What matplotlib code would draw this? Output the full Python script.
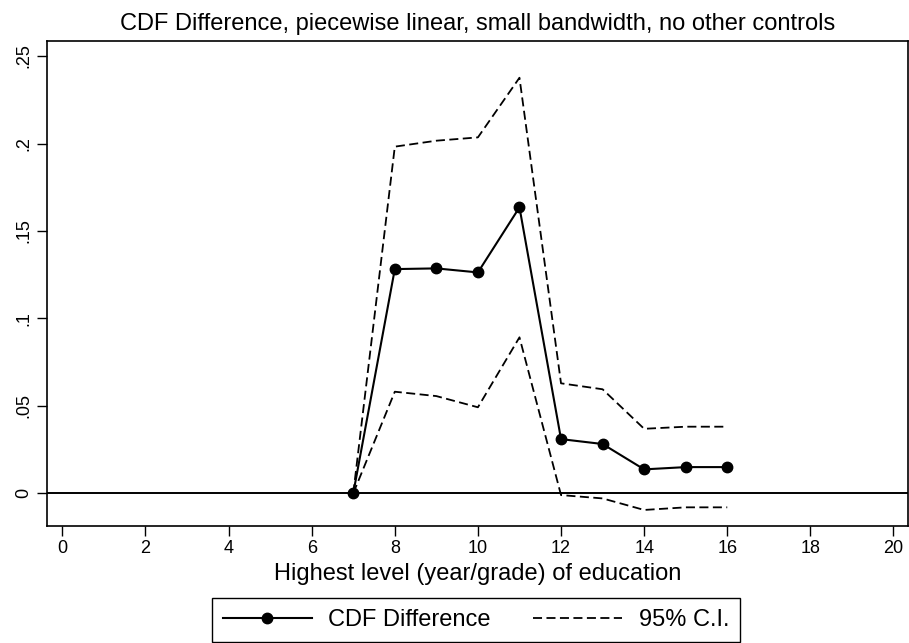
import matplotlib
matplotlib.use("Agg")
import matplotlib.pyplot as plt
from matplotlib.lines import Line2D

plt.rcParams['font.family'] = ['Liberation Sans', 'DejaVu Sans']
plt.rcParams['lines.scale_dashes'] = False

# Data
educ = [7, 8, 9, 10, 11, 12, 13, 14, 15, 16]
cdf_diff = [0.0, 0.1282, 0.1286, 0.1263, 0.1635, 0.0310, 0.0282, 0.0137, 0.0150, 0.0150]
ci_upper = [0.0, 0.1982, 0.2016, 0.2035, 0.2376, 0.0629, 0.0595, 0.0369, 0.0381, 0.0381]
ci_lower = [0.0, 0.0581, 0.0556, 0.0492, 0.0892, -0.0010, -0.0029, -0.0095, -0.0080, -0.0080]

x_ticks = [0, 2, 4, 6, 8, 10, 12, 14, 16, 18, 20]
y_ticks = [0, 0.05, 0.10, 0.15, 0.20, 0.25]
y_tick_labels = ["0", ".05", ".1", ".15", ".2", ".25"]

title = "CDF Difference, piecewise linear, small bandwidth, no other controls"
xlabel = "Highest level (year/grade) of education"
legend_labels = ["CDF Difference", "95% C.I."]

W, H = 909, 643
fig = plt.figure(figsize=(W / 100, H / 100), dpi=100)
fig.patch.set_facecolor('white')

left, right, top, bottom = 47, 908, 41, 525.7
ax = fig.add_axes([left / W, 1 - bottom / H, (right - left) / W, (bottom - top) / H])

dash = (0, (6.5, 3.2))
ax.axhline(0, color='black', lw=1.4, zorder=1)
ax.plot(educ, ci_upper, color='black', lw=1.3, linestyle=dash, zorder=2)
ax.plot(educ, ci_lower, color='black', lw=1.3, linestyle=dash, zorder=2)
ax.plot(educ, cdf_diff, color='black', lw=1.5, marker='o', markersize=7.5, zorder=3)

ax.set_xlim(-0.37, 20.35)
ax.set_ylim(-0.0185, 0.2586)
ax.set_xticks(x_ticks)
ax.set_xticklabels([str(t) for t in x_ticks])
ax.set_yticks(y_ticks)
ax.set_yticklabels(y_tick_labels, rotation=90, va='center')
ax.tick_params(axis='both', direction='out', length=7, width=1.0, labelsize=13, pad=3.5, color='black')

for s in ax.spines.values():
    s.set_linewidth(1.2)
    s.set_color('black')

ax.set_title(title, fontsize=17, pad=8)
ax.set_xlabel(xlabel, fontsize=17, labelpad=4)

handles = [
    Line2D([], [], color='black', lw=1.5, marker='o', markersize=7.5),
    Line2D([], [], color='black', lw=1.3, linestyle=dash),
]
leg = fig.legend(handles, legend_labels, loc='upper left',
                 bbox_to_anchor=(212.3 / W, 1 - 598.3 / H), ncol=2,
                 fontsize=17, frameon=True, fancybox=False, edgecolor='black',
                 handlelength=3.77, handletextpad=0.68, columnspacing=1.82,
                 borderpad=0.45, borderaxespad=0, framealpha=1)
leg.get_frame().set_linewidth(1.0)

fig.savefig("out.png", dpi=100, facecolor='white')
